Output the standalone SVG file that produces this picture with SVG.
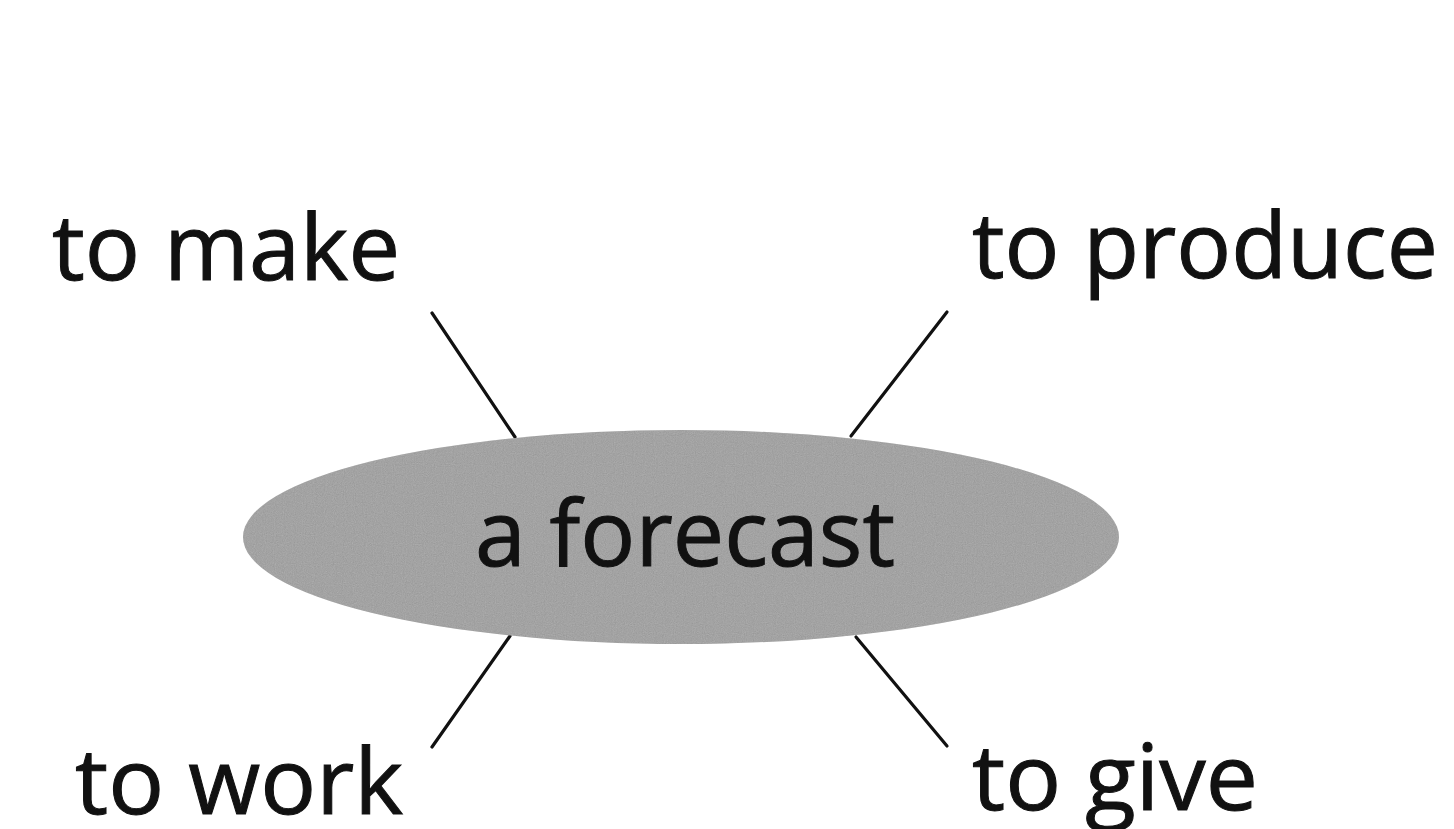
<svg xmlns="http://www.w3.org/2000/svg" width="1454" height="829" viewBox="0 0 1454 829">
<style>
.lbl{font-family:"Open Sans","Noto Sans","Liberation Sans",sans-serif;font-size:92px;fill:#111;stroke:#111;stroke-width:1}
.conn line{stroke:#111;stroke-width:3.2;stroke-linecap:round}
</style>
<defs>
<filter id="grain" x="0" y="0" width="100%" height="100%">
<feTurbulence type="fractalNoise" baseFrequency="0.9" numOctaves="2" seed="3" result="n"/>
<feColorMatrix in="n" type="matrix" values="0 0 0 0 0.6  0 0 0 0 0.6  0 0 0 0 0.6  0.25 0.25 0.25 0 -0.2" result="g"/>
<feComposite in="g" in2="SourceGraphic" operator="in" result="gi"/>
<feMerge><feMergeNode in="SourceGraphic"/><feMergeNode in="gi"/></feMerge>
</filter>
</defs>
<rect width="1454" height="829" fill="#fff"/>
<g class="conn" id="connectors">
<line x1="432" y1="313" x2="515" y2="437"/>
<line x1="947" y1="312" x2="851" y2="436"/>
<line x1="510" y1="636" x2="432" y2="747"/>
<line x1="856" y1="637" x2="947" y2="746"/>
</g>
<g id="center">
<ellipse cx="681" cy="537" rx="438" ry="107" fill="#999" filter="url(#grain)"/>
<text class="lbl" x="475" y="566" textLength="420" lengthAdjust="spacingAndGlyphs">a forecast</text>
</g>
<g id="make"><text class="lbl" x="52" y="280" textLength="348" lengthAdjust="spacingAndGlyphs">to make</text></g>
<g id="produce"><text class="lbl" x="972" y="278" textLength="466" lengthAdjust="spacingAndGlyphs">to produce</text></g>
<g id="work"><text class="lbl" x="75" y="814" textLength="328" lengthAdjust="spacingAndGlyphs">to work</text></g>
<g id="give"><text class="lbl" x="972" y="810" textLength="286" lengthAdjust="spacingAndGlyphs">to give</text></g>
</svg>
